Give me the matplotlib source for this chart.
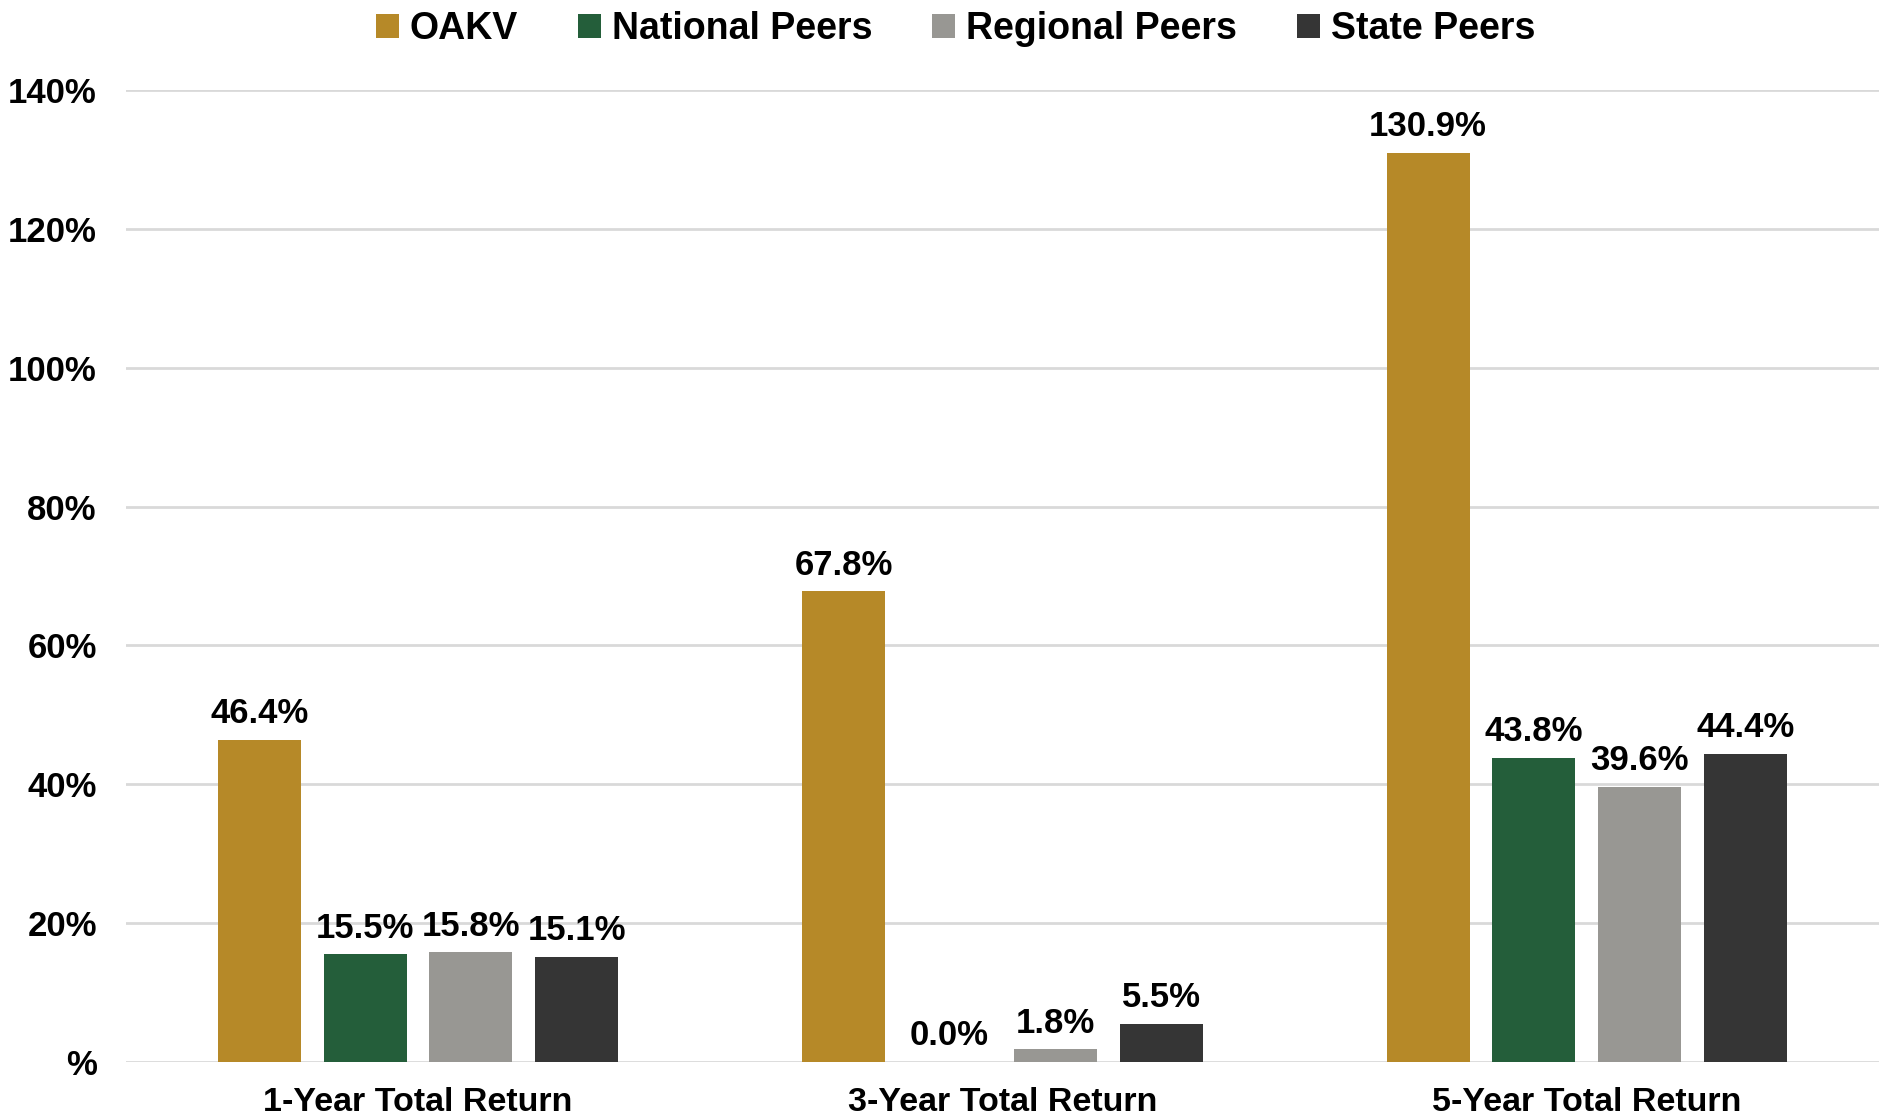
import numpy as np
import matplotlib
matplotlib.use("Agg")
import matplotlib.pyplot as plt

plt.rcParams['font.family'] = ['Liberation Sans', 'DejaVu Sans']
plt.rcParams['font.weight'] = 'bold'

# data
categories = ['1-Year Total Return', '3-Year Total Return', '5-Year Total Return']
series_names = ['OAKV', 'National Peers', 'Regional Peers', 'State Peers']
oakv = [46.4, 67.8, 130.9]
national = [15.5, 0.0, 43.8]
regional = [15.8, 1.8, 39.6]
state = [15.1, 5.5, 44.4]
colors = ['#B68928', '#245E3A', '#989793', '#353535']
yticks = [0, 20, 40, 60, 80, 100, 120, 140]
ytick_labels = ['%', '20%', '40%', '60%', '80%', '100%', '120%', '140%']

fig = plt.figure(figsize=(18.85, 11.18), dpi=100)
ax = fig.add_axes([0.0668, 0.0501, 0.930, 0.8694])

x = np.arange(len(categories))
pitch = 0.181
width = 0.142
all_series = [oakv, national, regional, state]
for i, (vals, name, c) in enumerate(zip(all_series, series_names, colors)):
    pos = x + (i - 1.5) * pitch
    bars = ax.bar(pos, vals, width, color=c, label=name, zorder=3)
    for b, v in zip(bars, vals):
        ax.text(b.get_x() + b.get_width() / 2, v + 1.4, f'{v:.1f}%',
                ha='center', va='bottom', fontsize=25, fontweight='bold')

ax.set_xlim(-0.5, 2.5)
ax.set_ylim(0, 140)
ax.set_yticks(yticks)
ax.set_yticklabels(ytick_labels, fontsize=25, fontweight='bold')
ax.set_xticks(x)
ax.set_xticklabels(categories, fontsize=24.5, fontweight='bold')
ax.tick_params(axis='both', length=0)
ax.tick_params(axis='y', pad=21)
ax.tick_params(axis='x', pad=18)
ax.grid(axis='y', color='#D9D9D9', linewidth=2, zorder=0)
for s in ax.spines.values():
    s.set_visible(False)

fig.legend(loc='upper center', bbox_to_anchor=(0.507, 1.02), ncol=4,
           frameon=False, fontsize=27, handlelength=0.6, handleheight=0.6,
           handletextpad=0.3, columnspacing=1.6)

fig.savefig('out.png', dpi=100)
